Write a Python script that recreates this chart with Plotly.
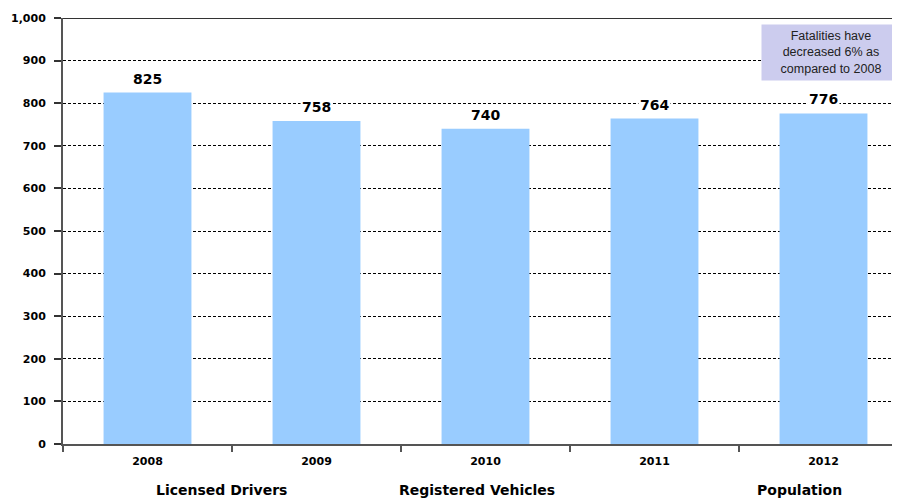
import plotly.graph_objects as go

years = ["2008", "2009", "2010", "2011", "2012"]
fatalities = [825, 758, 740, 764, 776]
group_labels = ["Licensed Drivers", "Registered Vehicles", "Population"]
group_label_x = [0.187, 0.49, 0.872]
note_text = "Fatalities have<br>decreased 6% as<br>compared to 2008"

idx = list(range(len(years)))
boundaries = [i - 0.5 for i in range(len(years) + 1)]
BOLD = "DejaVu Sans, Verdana, sans-serif"

fig = go.Figure()
fig.add_trace(go.Bar(
    x=idx, y=fatalities, width=0.52,
    marker=dict(color="#99CCFF", line=dict(width=0)),
    hovertext=years, hoverinfo="text+y",
))

annotations = []
for i, v in zip(idx, fatalities):
    annotations.append(dict(
        x=i, y=v, xref="x", yref="y", text=str(v), showarrow=False,
        yanchor="bottom", yshift=4, bgcolor="white",
        font=dict(family=BOLD, size=14, color="black", weight="bold"),
    ))
for lab, xp in zip(group_labels, group_label_x):
    annotations.append(dict(
        x=xp, y=-0.108, xref="paper", yref="paper", text=lab, showarrow=False,
        yanchor="middle", xanchor="center",
        font=dict(family=BOLD, size=14, color="black", weight="bold"),
    ))
annotations.append(dict(
    x=0.992, y=0.985, xref="paper", yref="paper", text=note_text, showarrow=False,
    xanchor="right", yanchor="top", align="center", bgcolor="#CCCCEE",
    borderpad=4, width=130,
    font=dict(family="Liberation Sans, Arial", size=12.5, color="#222222"),
))

fig.update_layout(
    width=900, height=501,
    margin=dict(l=55, r=0, t=10, b=65),
    paper_bgcolor="white", plot_bgcolor="white",
    showlegend=False,
    annotations=annotations,
    xaxis=dict(
        range=[-0.5, len(years) - 0.5],
        tickvals=idx, ticktext=years, ticks="",
        showgrid=False, showline=True, linecolor="#555555", linewidth=2,
        zeroline=False, ticklabelstandoff=6,
        tickfont=dict(family=BOLD, size=11, color="black", weight="bold"),
        minor=dict(tickvals=boundaries, ticks="outside", ticklen=6,
                   tickcolor="#555555", tickwidth=2, showgrid=False),
    ),
    yaxis=dict(
        range=[0, 1000], tick0=0, dtick=100, tickformat=",",
        showgrid=True, gridcolor="black", griddash="3px,2px", gridwidth=1,
        showline=True, linecolor="#555555", linewidth=2,
        ticks="outside", ticklen=7, tickcolor="#333333", tickwidth=2,
        ticklabelstandoff=6,
        tickfont=dict(family=BOLD, size=11, color="black", weight="bold"),
        zeroline=False,
    ),
    shapes=[dict(type="line", xref="paper", yref="y", x0=0, x1=1, y0=1000, y1=1000,
                 line=dict(color="#333333", width=2))],
)

fig.write_html("out.html")
